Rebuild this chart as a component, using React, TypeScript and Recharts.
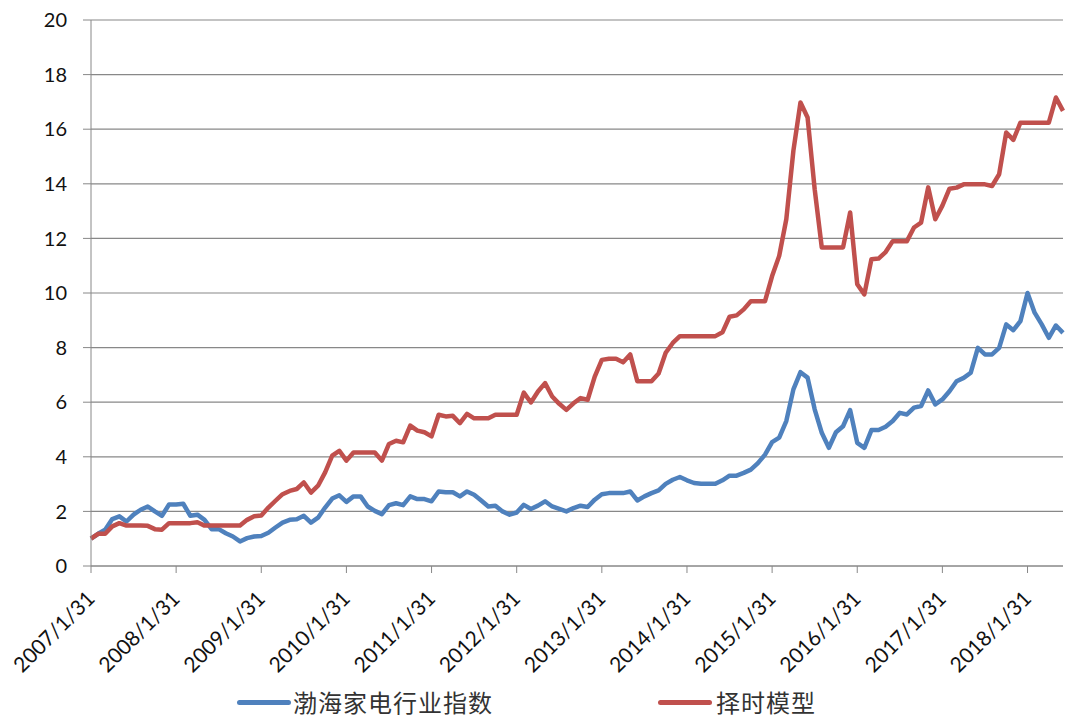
import { CartesianGrid, Legend, Line, LineChart, XAxis, YAxis } from "recharts"

// month index 0 = 2007/1/31, one point per month end up to 2018/6
const bohaiIndex = [
  1.0, 1.18, 1.33, 1.72, 1.82, 1.63, 1.88, 2.06, 2.18, 2.0, 1.84, 2.25,
  2.25, 2.28, 1.84, 1.88, 1.69, 1.35, 1.35, 1.2, 1.08, 0.9, 1.02, 1.08,
  1.1, 1.22, 1.41, 1.59, 1.69, 1.71, 1.84, 1.59, 1.77, 2.14, 2.47, 2.59,
  2.35, 2.55, 2.55, 2.18, 2.02, 1.9, 2.23, 2.3, 2.23, 2.55, 2.45, 2.45,
  2.37, 2.73, 2.7, 2.7, 2.55, 2.73, 2.61, 2.4, 2.18, 2.21, 2.0, 1.88,
  1.96, 2.24, 2.09, 2.21, 2.37, 2.18, 2.09, 2.0, 2.12, 2.21, 2.16, 2.43,
  2.63, 2.67, 2.67, 2.67, 2.73, 2.4, 2.55, 2.67, 2.77, 3.01, 3.16, 3.26,
  3.14, 3.04, 3.01, 3.01, 3.01, 3.14, 3.31, 3.31, 3.41, 3.53, 3.77, 4.08,
  4.54, 4.7, 5.31, 6.47, 7.1, 6.9, 5.74, 4.88, 4.33, 4.9, 5.12, 5.71,
  4.51, 4.33, 4.98, 4.98, 5.1, 5.31, 5.61, 5.55, 5.8, 5.86, 6.43, 5.92,
  6.1, 6.4, 6.77, 6.89, 7.08, 7.99, 7.75, 7.75, 7.99, 8.85, 8.64, 8.97,
  10.0, 9.28, 8.85, 8.36, 8.81, 8.54,
]

const timingModel = [
  1.0, 1.18, 1.18, 1.45, 1.57, 1.48, 1.48, 1.48, 1.47, 1.35, 1.33, 1.57,
  1.57, 1.57, 1.57, 1.6, 1.48, 1.48, 1.48, 1.48, 1.48, 1.48, 1.69, 1.82,
  1.85, 2.14, 2.39, 2.63, 2.75, 2.82, 3.06, 2.69, 2.94, 3.43, 4.04, 4.22,
  3.86, 4.16, 4.16, 4.16, 4.16, 3.86, 4.47, 4.59, 4.53, 5.14, 4.96, 4.9,
  4.75, 5.54, 5.48, 5.5, 5.23, 5.57, 5.41, 5.41, 5.41, 5.54, 5.54, 5.54,
  5.54, 6.35, 5.99, 6.39, 6.7, 6.21, 5.94, 5.72, 5.96, 6.15, 6.09, 6.94,
  7.55, 7.59, 7.59, 7.46, 7.75, 6.77, 6.77, 6.77, 7.05, 7.81, 8.17, 8.42,
  8.42, 8.42, 8.42, 8.42, 8.42, 8.56, 9.13, 9.18, 9.4, 9.7, 9.7, 9.7,
  10.62, 11.36, 12.7, 15.21, 16.98, 16.43, 13.8, 11.67, 11.67, 11.67, 11.67, 12.95,
  10.32, 9.95, 11.24, 11.26, 11.5, 11.9, 11.9, 11.9, 12.4, 12.58, 13.87, 12.7,
  13.2, 13.82, 13.86, 13.98, 13.98, 13.98, 13.98, 13.92, 14.35, 15.88, 15.61, 16.24,
  16.24, 16.24, 16.24, 16.24, 17.16, 16.67,
]

const yearTicks = [0, 12, 24, 36, 48, 60, 72, 84, 96, 108, 120, 132]
const yearLabels = [
  "2007/1/31",
  "2008/1/31",
  "2009/1/31",
  "2010/1/31",
  "2011/1/31",
  "2012/1/31",
  "2013/1/31",
  "2014/1/31",
  "2015/1/31",
  "2016/1/31",
  "2017/1/31",
  "2018/1/31",
]
const yTicks = [0, 2, 4, 6, 8, 10, 12, 14, 16, 18, 20]

const BLUE = "#4F81BD"
const RED = "#C0504D"
const GRID = "#888888"
const FONT = "Lato, 'Noto Sans', sans-serif"

const data = bohaiIndex.map((v, i) => ({ i, bohai: v, timing: timingModel[i] }))

const XTick = ({ x, y, payload }: any) => {
  const label = yearLabels[yearTicks.indexOf(payload.value)]
  const px = x + 5
  const py = y + 27
  return (
    <text
      x={px}
      y={py}
      transform={`rotate(-45, ${px}, ${py})`}
      textAnchor="end"
      fontSize={21}
      fontFamily={FONT}
      fill="#111"
    >
      {label}
    </text>
  )
}

const LegendBox = () => {
  const text = {
    position: "absolute" as const,
    top: 6,
    fontSize: 24,
    letterSpacing: 1,
    lineHeight: "30px",
    color: "#333",
    fontFamily: "'Noto Sans CJK SC', sans-serif",
    whiteSpace: "nowrap" as const,
  }
  const line = { position: "absolute" as const, top: 19, width: 54, height: 5, borderRadius: 3 }
  return (
    <div style={{ position: "relative", width: 1071, height: 42 }}>
      <div style={{ ...line, left: 237, background: BLUE }} />
      <div style={{ ...text, left: 293 }}>渤海家电行业指数</div>
      <div style={{ ...line, left: 658, background: RED }} />
      <div style={{ ...text, left: 716 }}>择时模型</div>
    </div>
  )
}

export default function App() {
  return (
    <div style={{ position: "absolute", left: 0, top: 0, background: "#fff" }}>
      <LineChart
        width={1071}
        height={723}
        data={data}
        margin={{ top: 20, right: 8, bottom: 0, left: 0 }}
      >
        <CartesianGrid vertical={false} stroke={GRID} strokeWidth={1.2} />
        <XAxis
          dataKey="i"
          type="number"
          domain={[0, 137]}
          ticks={yearTicks}
          interval={0}
          height={115}
          tickSize={7}
          tickMargin={0}
          stroke={GRID}
          tick={<XTick />}
        />
        <YAxis
          domain={[0, 20]}
          ticks={yTicks}
          width={91}
          tickSize={8}
          tickMargin={16}
          stroke={GRID}
          tick={{ fontSize: 20, fontFamily: FONT, fill: "#111" }}
        />
        <Legend
          verticalAlign="bottom"
          wrapperStyle={{ left: 0, width: 1071 }}
          content={<LegendBox />}
        />
        <Line
          dataKey="bohai"
          stroke={BLUE}
          strokeWidth={4.5}
          dot={false}
          strokeLinejoin="round"
          isAnimationActive={false}
        />
        <Line
          dataKey="timing"
          stroke={RED}
          strokeWidth={4.5}
          dot={false}
          strokeLinejoin="round"
          isAnimationActive={false}
        />
      </LineChart>
    </div>
  )
}
